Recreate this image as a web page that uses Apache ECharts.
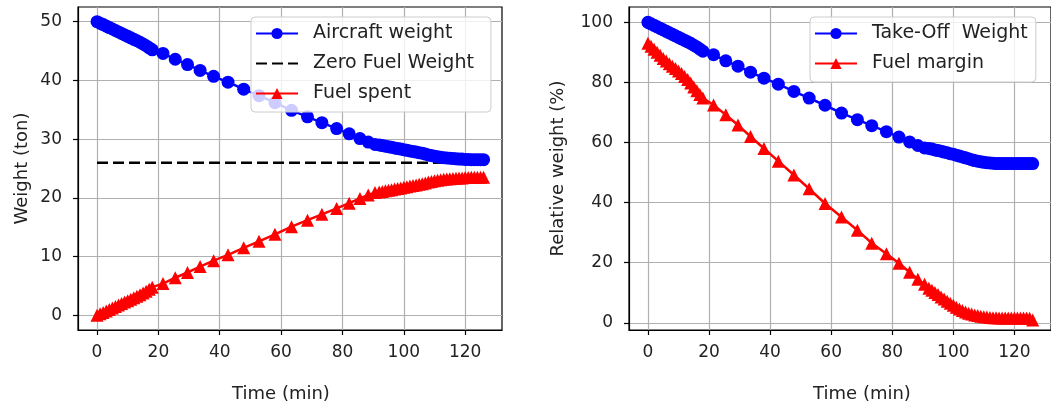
<!DOCTYPE html>
<html>
<head>
<meta charset="utf-8">
<script src="https://cdn.jsdelivr.net/npm/echarts@6/dist/echarts.min.js"></script>
<style>
  html, body { margin: 0; padding: 0; background: #fff; }
  #chart { width: 1051px; height: 412px; }
</style>
</head>
<body>
<div id="chart"></div>
<script>
// time samples (min): dense climb, sparse cruise, dense descent
var timeMin = [
  0, 1, 2, 3, 4, 5, 6, 7, 8, 9, 10, 11, 12, 13, 14, 15, 16, 17, 18,
  21.5, 25.5, 29.5, 33.6, 38.0, 42.7, 47.8, 52.8, 58.0, 63.4, 68.6, 73.3, 78.1, 82.2, 85.7, 88.4, 90.6,
  92, 93, 94, 95, 96, 97, 98, 99, 100, 101, 102, 103, 104, 105, 106, 107, 108, 109,
  110, 111, 112, 113, 114, 115, 116, 117, 118, 119, 120, 121, 122, 123, 124, 125, 126
];

// left panel (ton)
var aircraftWeight = [
  50.0, 49.75, 49.5, 49.25, 49.0, 48.75, 48.5, 48.25, 48.0, 47.75, 47.5, 47.25, 47.0, 46.75, 46.5, 46.2, 45.9, 45.55, 45.2,
  44.6, 43.6, 42.7, 41.7, 40.7, 39.7, 38.5, 37.4, 36.2, 34.9, 33.8, 32.8, 31.8, 30.9, 30.1, 29.5, 29.1,
  29.0, 28.9, 28.8, 28.7, 28.6, 28.5, 28.4, 28.3, 28.2, 28.1, 28.0, 27.9, 27.8, 27.7, 27.6, 27.45, 27.3, 27.2,
  27.1, 27.0, 26.9, 26.85, 26.8, 26.75, 26.7, 26.65, 26.6, 26.6, 26.55, 26.55, 26.5, 26.5, 26.5, 26.5, 26.5
];
var fuelSpent = [
  0, 0.25, 0.5, 0.75, 1.0, 1.25, 1.5, 1.75, 2.0, 2.25, 2.5, 2.75, 3.0, 3.25, 3.5, 3.8, 4.1, 4.45, 4.8,
  5.4, 6.4, 7.3, 8.3, 9.3, 10.3, 11.5, 12.6, 13.8, 15.1, 16.2, 17.2, 18.2, 19.1, 19.9, 20.5, 20.9,
  21.0, 21.1, 21.2, 21.3, 21.4, 21.5, 21.6, 21.7, 21.8, 21.9, 22.0, 22.1, 22.2, 22.3, 22.4, 22.55, 22.7, 22.8,
  22.9, 23.0, 23.1, 23.15, 23.2, 23.25, 23.3, 23.35, 23.4, 23.4, 23.45, 23.45, 23.5, 23.5, 23.5, 23.5, 23.5
];
var zfwTime = [0, 126];
var zfwWeight = [26, 26];

// right panel (%)
var takeOffWeight = [
  100, 99.5, 99, 98.5, 98, 97.5, 97, 96.5, 96, 95.5, 95, 94.5, 94, 93.5, 93, 92.4, 91.8, 91.1, 90.4,
  89.2, 87.2, 85.4, 83.4, 81.4, 79.4, 77.0, 74.8, 72.4, 69.8, 67.6, 65.6, 63.6, 61.8, 60.2, 59.0, 58.2,
  58.0, 57.8, 57.5, 57.3, 57.1, 56.8, 56.6, 56.3, 56.1, 55.8, 55.5, 55.2, 54.9, 54.6, 54.3, 54.0, 53.8, 53.6,
  53.4, 53.3, 53.2, 53.1, 53.0, 53.0, 53.0, 53.0, 53.0, 53.0, 53.0, 53.0, 53.0, 53.0, 53.0, 53.0, 53.0
];
var fuelMargin = [
  93.0, 92.0, 91.0, 90.0, 89.0, 88.0, 87.1, 86.2, 85.4, 84.6, 83.8, 83.0, 82.0, 81.0, 79.8, 78.5, 77.2, 76.0, 74.8,
  72.5, 69.2, 65.8, 62.0, 58.0, 53.8, 49.2, 44.6, 39.7, 35.2, 30.8, 26.5, 23.0, 19.8, 16.8, 14.5, 12.8,
  11.5, 10.8, 10.1, 9.4, 8.6, 7.9, 7.2, 6.5, 5.8, 5.2, 4.6, 4.1, 3.6, 3.2, 2.9, 2.6, 2.4, 2.2,
  2.0, 1.9, 1.8, 1.7, 1.7, 1.6, 1.6, 1.6, 1.6, 1.6, 1.6, 1.6, 1.6, 1.6, 1.6, 1.5, 0.9
];

var xTicks = [0, 20, 40, 60, 80, 100, 120];
var yTicksLeft = [0, 10, 20, 30, 40, 50];
var yTicksRight = [0, 20, 40, 60, 80, 100];

(function() {
  var chart = echarts.init(document.getElementById('chart'), null, { renderer: 'canvas' });
  var font = 'DejaVu Sans';
  var ink = '#222222';

  function pairs(xs, ys) {
    var out = [];
    for (var i = 0; i < xs.length; i++) out.push([xs[i], ys[i]]);
    return out;
  }

  function xAxis(gridIndex, shift) {
    return {
      type: 'value', gridIndex: gridIndex, min: -6.2, max: 132,
      name: 'Time (min)', nameLocation: 'middle', nameGap: 55,
      nameTextStyle: { fontSize: 18, color: ink, fontFamily: font, padding: shift },
      axisLine: { onZero: false, lineStyle: { color: '#000', width: 1.2 } },
      axisTick: { customValues: xTicks, length: 5, lineStyle: { color: '#000', width: 1.2 } },
      axisLabel: { customValues: xTicks, margin: 14, fontSize: 17, color: ink, fontFamily: font },
      splitLine: { show: true, lineStyle: { color: '#b0b0b0', width: 1.2 } }
    };
  }

  function yAxis(gridIndex, min, max, ticks, name, gap) {
    return {
      type: 'value', gridIndex: gridIndex, min: min, max: max,
      name: name, nameLocation: 'middle', nameGap: gap,
      nameTextStyle: { fontSize: 18, color: ink, fontFamily: font },
      axisLine: { onZero: false, lineStyle: { color: '#000', width: 1.2 } },
      axisTick: { customValues: ticks, length: 5, lineStyle: { color: '#000', width: 1.2 } },
      axisLabel: { customValues: ticks, margin: 16, fontSize: 17, color: ink, fontFamily: font },
      splitLine: { show: true, lineStyle: { color: '#b0b0b0', width: 1.2 } }
    };
  }

  function legend(left, top, names, pad) {
    return {
      orient: 'vertical', left: left, top: top, padding: pad,
      itemWidth: 42, itemHeight: 14, itemGap: 11,
      backgroundColor: 'rgba(255,255,255,0.8)', borderColor: '#cccccc', borderWidth: 1, borderRadius: 4,
      textStyle: { fontSize: 19, color: ink, fontFamily: font, padding: [0, 0, 0, 10] },
      data: names
    };
  }

  function markerLine(name, xi, data, color, symbol) {
    return {
      name: name, type: 'line', xAxisIndex: xi, yAxisIndex: xi,
      data: data, symbol: symbol, symbolSize: 13, showSymbol: true,
      itemStyle: { color: color }, lineStyle: { color: color, width: 2.5 }
    };
  }

  var option = {
    animation: false,
    backgroundColor: '#fff',
    grid: [
      { left: 78, top: 7, width: 424, height: 323, show: true, borderColor: '#000', borderWidth: 1.2 },
      { left: 629, top: 7, width: 424, height: 323, show: true, borderColor: '#000', borderWidth: 1.2 }
    ],
    xAxis: [xAxis(0, [0, 18, 0, 0]), xAxis(1, [0, 0, 0, 44])],
    yAxis: [
      yAxis(0, -2.5, 52.5, yTicksLeft, 'Weight (ton)', 47),
      yAxis(1, -2.4, 105.1, yTicksRight, 'Relative weight (%)', 62)
    ],
    legend: [
      legend(251, 17, [
        'Aircraft weight',
        { name: 'Zero Fuel Weight', itemStyle: { opacity: 0 } },
        'Fuel spent'
      ], [7, 17, 9, 4]),
      legend(810, 17, ['Take-Off  Weight', 'Fuel margin'], [7, 8, 9, 4])
    ],
    series: [
      markerLine('Aircraft weight', 0, pairs(timeMin, aircraftWeight), '#0000ff', 'circle'),
      {
        name: 'Zero Fuel Weight', type: 'line', xAxisIndex: 0, yAxisIndex: 0,
        data: pairs(zfwTime, zfwWeight), symbol: 'none',
        itemStyle: { color: '#000' },
        lineStyle: { color: '#000', width: 2.5, type: [11, 5] }
      },
      markerLine('Fuel spent', 0, pairs(timeMin, fuelSpent), '#ff0000', 'triangle'),
      markerLine('Take-Off  Weight', 1, pairs(timeMin, takeOffWeight), '#0000ff', 'circle'),
      markerLine('Fuel margin', 1, pairs(timeMin, fuelMargin), '#ff0000', 'triangle')
    ]
  };

  chart.setOption(option);
  window.addEventListener('resize', function() { chart.resize(); });
})();
</script>
</body>
</html>
